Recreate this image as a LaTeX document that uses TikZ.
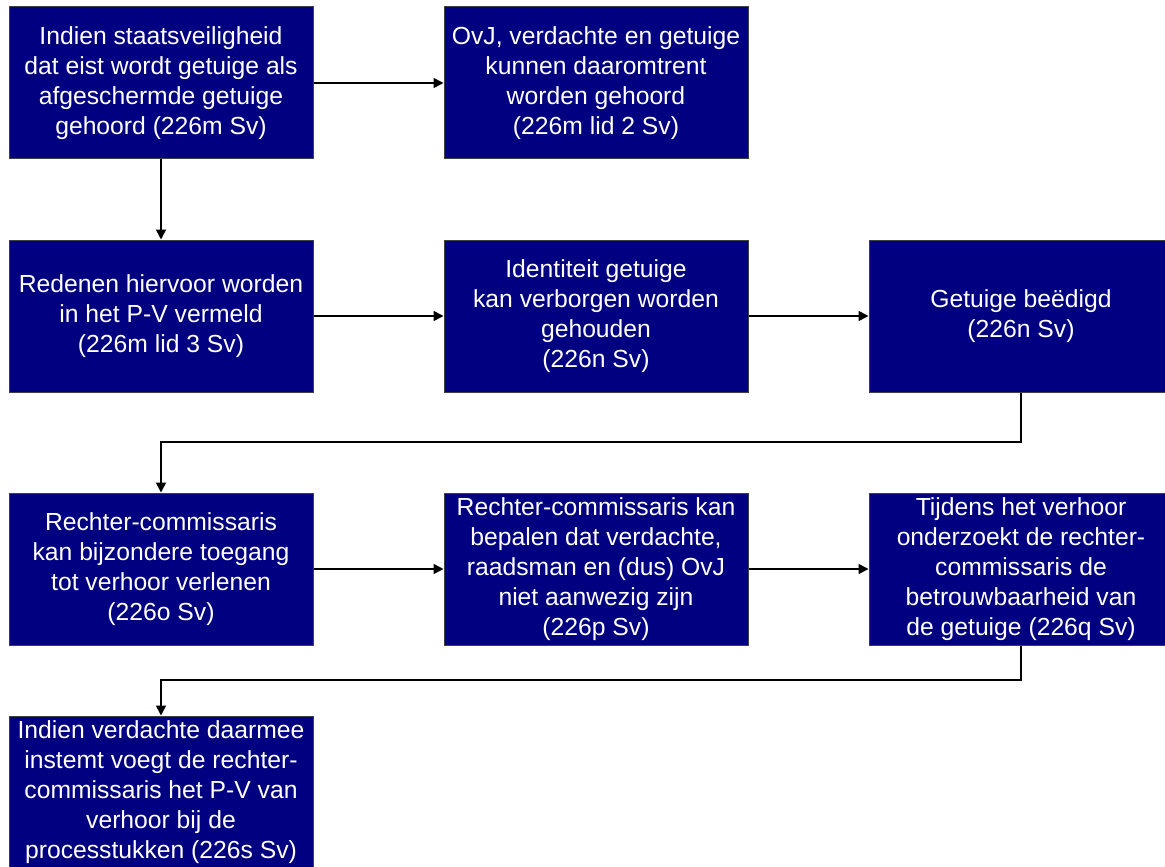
\documentclass[tikz,border=0pt]{standalone}
\usepackage{fontspec}
\setmainfont{Liberation Sans}
\usetikzlibrary{arrows.meta}
\definecolor{navy}{RGB}{0,0,128}

\begin{document}
\begin{tikzpicture}[x=0.5pt,y=-0.5pt,
    box/.style={rectangle,draw=black!75,line width=0.5pt,fill=navy,text=white,
      minimum width=152pt,minimum height=76pt,inner sep=0pt,align=center,
      font=\fontsize{12.35}{15}\selectfont},
    arr/.style={line width=0.8pt,-{Triangle[length=5pt,width=5pt]}}]
    \clip (0,0) rectangle (1165,866);
    \node[box](staat) at (161,83) {Indien staatsveiligheid\\dat eist wordt getuige als\\afgeschermde getuige\\gehoord (226m Sv)};
    \node[box](gehoord) at (596,83) {OvJ, verdachte en getuige\\kunnen daaromtrent\\worden gehoord\\(226m lid 2 Sv)};
    \node[box](redenen) at (161,316) {Redenen hiervoor worden\\in het P-V vermeld\\(226m lid 3 Sv)};
    \node[box](identiteit) at (596,316) {Identiteit getuige\\kan verborgen worden\\gehouden\\(226n Sv)};
    \node[box](beedigd) at (1021,316) {Getuige beëdigd\\(226n Sv)};
    \node[box](toegang) at (161,569) {Rechter-commissaris\\kan bijzondere toegang\\tot verhoor verlenen\\(226o Sv)};
    \node[box](aanwezig) at (596,569) {Rechter-commissaris kan\\bepalen dat verdachte,\\raadsman en (dus) OvJ\\niet aanwezig zijn\\(226p Sv)};
    \node[box](verhoor) at (1021,569) {Tijdens het verhoor\\onderzoekt de rechter-\\commissaris de\\betrouwbaarheid van\\de getuige (226q Sv)};
    \node[box](stukken) at (161,792) {Indien verdachte daarmee\\instemt voegt de rechter-\\commissaris het P-V van\\verhoor bij de\\processtukken (226s Sv)};
    % knikken in de lange verbindingen
    \coordinate (bocht1) at (0,442);
    \coordinate (bocht2) at (0,680);
    \draw[arr] (staat) -- (gehoord);
    \draw[arr] (staat) -- (redenen);
    \draw[arr] (redenen) -- (identiteit);
    \draw[arr] (identiteit) -- (beedigd);
    \draw[arr] (beedigd.south) -- (beedigd.south |- bocht1) -- (toegang.north |- bocht1) -- (toegang.north);
    \draw[arr] (toegang) -- (aanwezig);
    \draw[arr] (aanwezig) -- (verhoor);
    \draw[arr] (verhoor.south) -- (verhoor.south |- bocht2) -- (stukken.north |- bocht2) -- (stukken.north);
  \end{tikzpicture}
\end{document}
